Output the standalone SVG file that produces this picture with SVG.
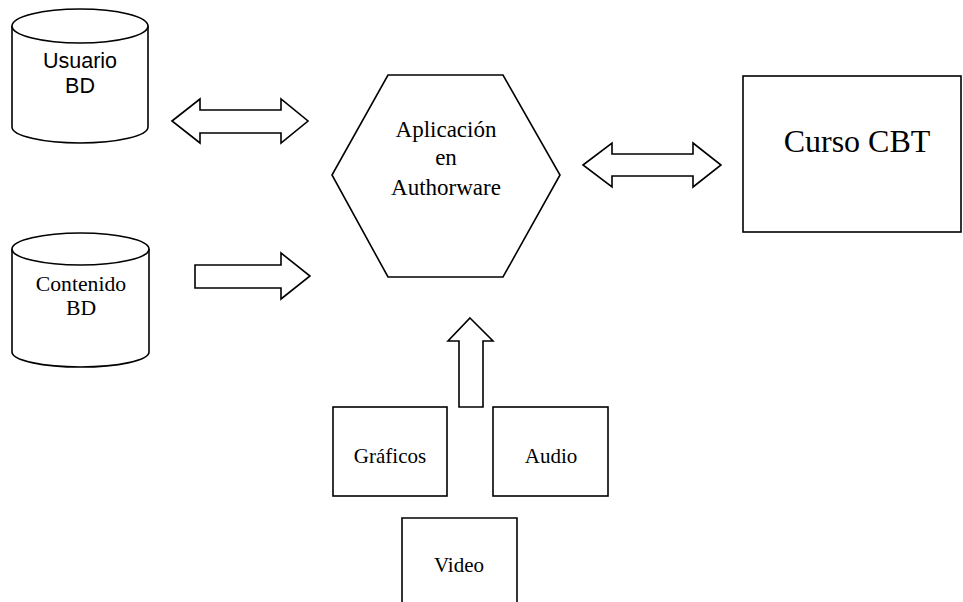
<svg xmlns="http://www.w3.org/2000/svg" width="963" height="602" viewBox="0 0 963 602">
<style>
.s{fill:#fff;stroke:#000;stroke-width:1.6;stroke-linejoin:miter}
.serif{font-family:"Liberation Serif","Times New Roman",serif;fill:#000;text-anchor:middle}
.sans{font-family:"Liberation Sans",Arial,sans-serif;fill:#000;text-anchor:middle}
</style>
<rect width="963" height="602" fill="#fff"/>
<g id="usuario-bd">
<path class="s" d="M12,26 L12,127 A68,16 0 0 0 148,127 L148,26"/>
<ellipse class="s" cx="80" cy="26" rx="68" ry="17"/>
<text class="sans" x="80" y="68" font-size="21.5">Usuario</text>
<text class="sans" x="80" y="93" font-size="21.5">BD</text>
</g>
<g id="contenido-bd">
<path class="s" d="M12,249 L12,352 A68.5,15 0 0 0 149,352 L149,249"/>
<ellipse class="s" cx="80.5" cy="249" rx="68.5" ry="16"/>
<text class="serif" x="81" y="291" font-size="21.7">Contenido</text>
<text class="serif" x="81" y="315" font-size="21.7">BD</text>
</g>
<g id="aplicacion">
<polygon class="s" points="388,75 503,75 560,175 503,277 388,277 332,175"/>
<text class="serif" x="446" y="137" font-size="23">Aplicación</text>
<text class="serif" x="446" y="165" font-size="23">en</text>
<text class="serif" x="446" y="195" font-size="23">Authorware</text>
</g>
<g id="curso-cbt">
<rect class="s" x="743" y="76" width="218" height="156"/>
<text class="serif" x="857" y="152" font-size="32">Curso CBT</text>
</g>
<g id="graficos">
<rect class="s" x="333" y="407" width="114" height="89"/>
<text class="serif" x="390" y="463" font-size="21">Gráficos</text>
</g>
<g id="audio">
<rect class="s" x="493" y="407" width="115" height="89"/>
<text class="serif" x="551" y="463" font-size="21">Audio</text>
</g>
<g id="video">
<path class="s" d="M402,604 L402,518 L517,518 L517,604"/>
<text class="serif" x="459" y="572" font-size="21">Video</text>
</g>
<g id="connectors">
<polygon class="s" points="172,121 200,99 200,110 281,110 281,99 308,121 281,143 281,133 200,133 200,143"/>
<polygon class="s" points="195,265 281,265 281,253 310,276 281,299 281,288 195,288"/>
<polygon class="s" points="583,165 612,143 612,154 693,154 693,143 721,165 693,187 693,176 612,176 612,187"/>
<polygon class="s" points="470,318 493,341 483,341 483,407 459,407 459,341 448,341"/>
</g>
</svg>
